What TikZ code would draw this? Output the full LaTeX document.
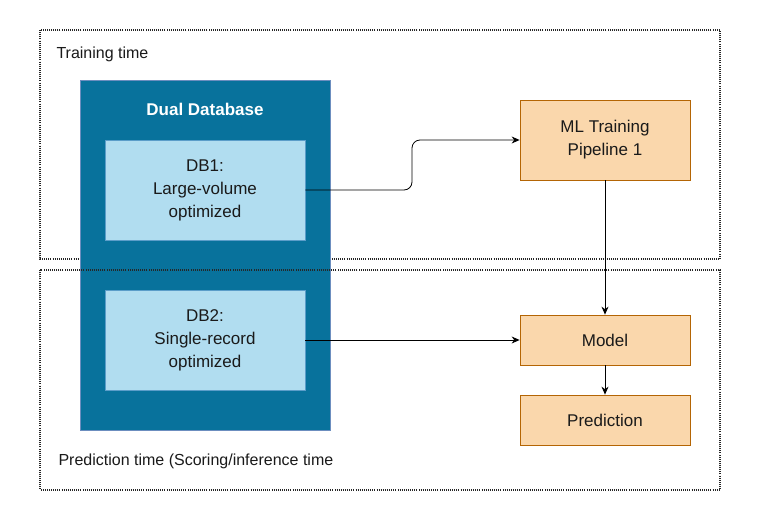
\documentclass[tikz,border=0pt]{standalone}
\usepackage{fontspec}
\setmainfont{Liberation Sans}
\usetikzlibrary{arrows.meta}
\definecolor{dbblue}{HTML}{08729C}
\definecolor{dbedge}{HTML}{6C8EBF}
\definecolor{lightblue}{HTML}{B1DDF0}
\definecolor{lbedge}{HTML}{5B9DC9}
\definecolor{orfill}{HTML}{FAD7AC}
\definecolor{oredge}{HTML}{B46504}
\definecolor{txt}{HTML}{1A1A1A}
\tikzset{
  zone/.style={draw=black!85, line width=1.1pt, dash pattern=on 1pt off 1.1pt},
  dbbox/.style={draw=lbedge, fill=lightblue, line width=0.6pt, text=txt, align=center, font=\fontsize{17}{23}\selectfont},
  orbox/.style={draw=oredge, fill=orfill, line width=0.8pt, text=txt, align=center, font=\fontsize{17}{23}\selectfont},
  conn/.style={draw=black, line width=0.8pt, -{Stealth[length=8pt,width=7pt]}},
  lbl/.style={anchor=west, text=txt, font=\fontsize{16}{18}\selectfont}
}
\begin{document}
\begin{tikzpicture}[x=1pt,y=-1pt]
\useasboundingbox (0,0) rectangle (760,530);
\fill[white] (0,0) rectangle (760,530);
% training zone
\draw[zone] (40,30) rectangle (720,259);
\node[lbl] (tt) at (53,54) {Training time};
% dual database
\node[draw=dbedge, fill=dbblue, line width=0.6pt, minimum width=250pt, minimum height=350pt, inner sep=0pt] (dual) at (205,255) {};
\node[text=white, font=\bfseries\fontsize{17}{20}\selectfont] (dualt) at (205,109) {Dual Database};
% prediction zone
\draw[zone] (40,270) rectangle (720,490);
\node[lbl] (pt) at (55,461) {Prediction time (Scoring/inference time};
% db boxes
\node[dbbox, minimum width=200pt, minimum height=100pt, inner sep=0pt] (db1) at (205,190) {DB1:\\Large-volume\\optimized};
\node[dbbox, minimum width=200pt, minimum height=100pt, inner sep=0pt] (db2) at (205,340) {DB2:\\Single-record\\optimized};
% orange boxes
\node[orbox, minimum width=170pt, minimum height=80pt, inner sep=0pt] (ml) at (605,140) {ML Training\\Pipeline 1};
\node[orbox, minimum width=170pt, minimum height=50pt, inner sep=0pt] (model) at (605,340) {Model};
\node[orbox, minimum width=170pt, minimum height=50pt, inner sep=0pt] (pred) at (605,420) {Prediction};
% connectors
\draw[conn, rounded corners=8pt] (db1.east) -- (412,190) -- (412,140) -- (ml.west);
\draw[conn] (db2.east) -- (model.west);
\draw[conn] (ml.south) -- (model.north);
\draw[conn] (model.south) -- (pred.north);
\end{tikzpicture}
\end{document}
